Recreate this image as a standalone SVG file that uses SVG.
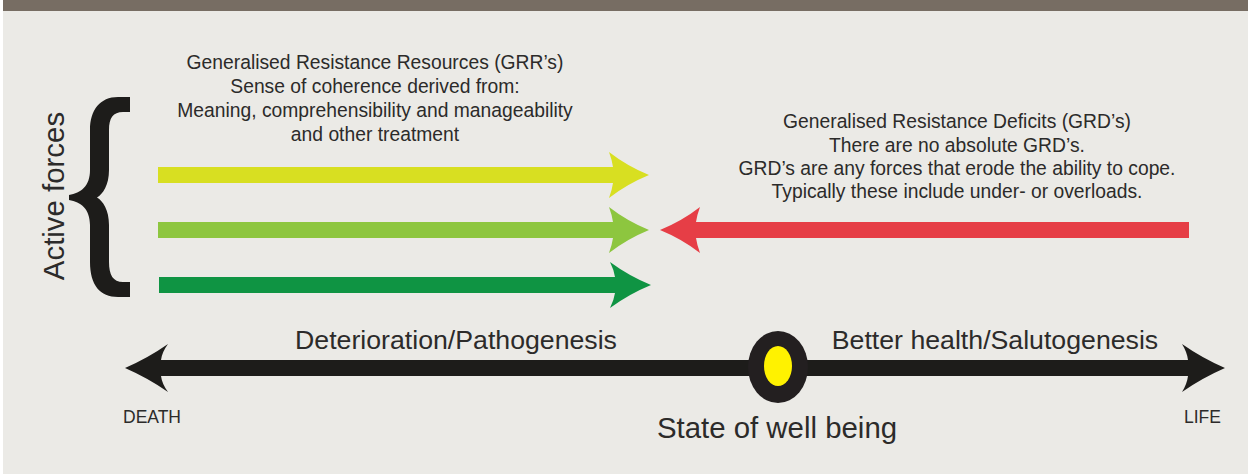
<svg xmlns="http://www.w3.org/2000/svg" width="1248" height="474" viewBox="0 0 1248 474">
  <style>
    .t { font-family: "Liberation Sans", Arial, sans-serif; fill: #2c2b2a; }
    .small { font-size: 19.3px; text-anchor: middle; }
    .mid { font-size: 26.7px; text-anchor: middle; }
    .end { font-size: 17.5px; }
    .big { font-size: 29.4px; text-anchor: middle; }
    .yellow { fill: #d8df21; }
    .lgreen { fill: #8dc63f; }
    .dgreen { fill: #0f9443; }
    .red { fill: #e63e46; }
    .black { fill: #1d1c1a; }
  </style>
  <rect x="0" y="0" width="1248" height="474" fill="#ebeae6"/>
  <rect x="0" y="0" width="1248" height="11" fill="#776d63"/>
  <rect x="0" y="0" width="3" height="474" fill="#ffffff"/>

  <g id="active-forces">
    <text class="t big" transform="translate(64,196) rotate(-90)">Active forces</text>
    <path class="black" d="M130,97 L118,97 C100,97 90,110 90,130 L90,170 C90,186 81,193 69,195 L69,200 C81,202 90,209 90,225 L90,262 C90,285 100,297 118,297 L130,297 L130,282 L123,282 C113,282 109,275 109,262 L109,225 C109,210 103,201 97,197.5 C103,194 109,185 109,170 L109,130 C109,118 113,112 123,112 L130,112 Z"/>
  </g>

  <g id="grr-label">
    <text class="t small" x="375" y="69">Generalised Resistance Resources (GRR’s)</text>
    <text class="t small" x="375" y="93">Sense of coherence derived from:</text>
    <text class="t small" x="375" y="117">Meaning, comprehensibility and manageability</text>
    <text class="t small" x="375" y="141">and other treatment</text>
  </g>

  <g id="grd-label">
    <text class="t small" x="957" y="128">Generalised Resistance Deficits (GRD’s)</text>
    <text class="t small" x="957" y="152">There are no absolute GRD’s.</text>
    <text class="t small" x="957" y="175">GRD’s are any forces that erode the ability to cope.</text>
    <text class="t small" x="957" y="198">Typically these include under- or overloads.</text>
  </g>

  <g id="connectors">
    <path class="yellow" d="M158,167 L613,167 Q612,160 609,152 Q627,166 649,175 Q627,184 609,198 Q612,190 613,183 L158,183 Z"/>
    <path class="lgreen" d="M158,222 L613,222 Q612,215 609,207 Q627,221 649,230 Q627,239 609,253 Q612,245 613,238 L158,238 Z"/>
    <path class="dgreen" d="M159,277 L615,277 Q614,270 610,262 Q629,276 651,285 Q629,294 610,308 Q614,300 615,293 L159,293 Z"/>
    <path class="red" d="M1189,222 L696,222 Q697,215 700,207 Q682,221 660,230 Q682,239 700,253 Q697,245 696,238 L1189,238 Z"/>
    <path class="black" d="M125,368 Q148,358 168,344 Q162,352 161,360 L1188,360 Q1187,352 1182,344 Q1202,358 1225,368 Q1202,378 1182,392 Q1187,384 1188,376 L161,376 Q162,384 168,392 Q148,378 125,368 Z"/>
  </g>

  <g id="axis-labels">
    <text class="t mid" x="456" y="349">Deterioration/Pathogenesis</text>
    <text class="t mid" x="995" y="349">Better health/Salutogenesis</text>
    <text class="t end" x="123" y="423">DEATH</text>
    <text class="t end" x="1184" y="423">LIFE</text>
  </g>

  <g id="state-of-well-being">
    <ellipse cx="778" cy="367" rx="30" ry="36" fill="#231f20"/>
    <ellipse cx="778" cy="366" rx="14" ry="20" fill="#fff200"/>
    <text class="t big" x="777" y="438">State of well being</text>
  </g>
</svg>
